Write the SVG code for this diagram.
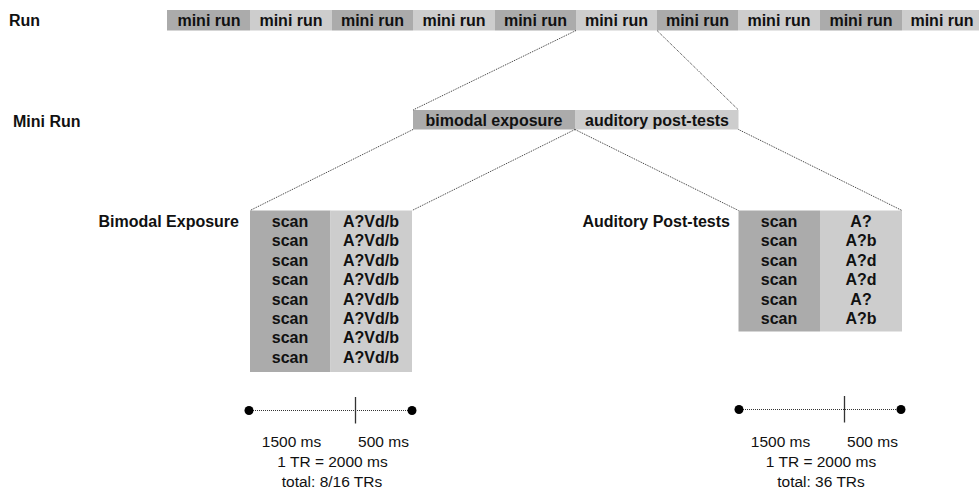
<svg xmlns="http://www.w3.org/2000/svg" width="979" height="491" viewBox="0 0 979 491">
<style>
text{font-family:"Liberation Sans",Arial,sans-serif;fill:#111}
.b{font-weight:bold;font-size:16px}
.r{font-size:15.5px}
.c{text-anchor:middle}
.dk{fill:#ababab}
.lt{fill:#cdcdcd}
.dot{stroke:#333;stroke-width:1;stroke-dasharray:1 1;fill:none}
</style>
<rect width="979" height="491" fill="#fff"/>
<g id="labels">
<text class="b" x="9" y="26">Run</text>
<text class="b" x="13" y="127">Mini Run</text>
<text class="b" x="239" y="227" text-anchor="end">Bimodal Exposure</text>
<text class="b" x="730" y="227" text-anchor="end">Auditory Post-tests</text>
</g>
<g id="run-bar">
<rect class="dk" x="167" y="10" width="83" height="20.5"/>
<rect class="lt" x="250" y="10" width="82" height="20.5"/>
<rect class="dk" x="332" y="10" width="81" height="20.5"/>
<rect class="lt" x="413" y="10" width="82" height="20.5"/>
<rect class="dk" x="495" y="10" width="81" height="20.5"/>
<rect class="lt" x="576" y="10" width="81" height="20.5"/>
<rect class="dk" x="657" y="10" width="81" height="20.5"/>
<rect class="lt" x="738" y="10" width="82" height="20.5"/>
<rect class="dk" x="820" y="10" width="82" height="20.5"/>
<rect class="lt" x="902" y="10" width="81" height="20.5"/>
<text class="b c" x="209" y="26">mini run</text>
<text class="b c" x="291" y="26">mini run</text>
<text class="b c" x="372.5" y="26">mini run</text>
<text class="b c" x="454" y="26">mini run</text>
<text class="b c" x="535.5" y="26">mini run</text>
<text class="b c" x="616.5" y="26">mini run</text>
<text class="b c" x="697.5" y="26">mini run</text>
<text class="b c" x="779" y="26">mini run</text>
<text class="b c" x="861" y="26">mini run</text>
<text class="b c" x="942" y="26">mini run</text>
</g>
<g id="mini-run-bar">
<rect class="dk" x="413" y="110" width="162" height="19.5"/>
<rect class="lt" x="575" y="110" width="163.5" height="19.5"/>
<text class="b c" x="494" y="125.5">bimodal exposure</text>
<text class="b c" x="657" y="125.5">auditory post-tests</text>
</g>
<g id="bimodal-table">
<rect class="dk" x="250" y="210.5" width="80.5" height="161.5"/>
<rect class="lt" x="330.5" y="210.5" width="81.5" height="161.5"/>
<g class="b c">
<text x="290" y="227">scan</text><text x="371" y="227">A?Vd/b</text>
<text x="290" y="246.4">scan</text><text x="371" y="246.4">A?Vd/b</text>
<text x="290" y="265.8">scan</text><text x="371" y="265.8">A?Vd/b</text>
<text x="290" y="285.2">scan</text><text x="371" y="285.2">A?Vd/b</text>
<text x="290" y="304.6">scan</text><text x="371" y="304.6">A?Vd/b</text>
<text x="290" y="324">scan</text><text x="371" y="324">A?Vd/b</text>
<text x="290" y="343.4">scan</text><text x="371" y="343.4">A?Vd/b</text>
<text x="290" y="362.8">scan</text><text x="371" y="362.8">A?Vd/b</text>
</g>
</g>
<g id="auditory-table">
<rect class="dk" x="738.5" y="210.5" width="81.5" height="121"/>
<rect class="lt" x="820" y="210.5" width="82" height="121"/>
<g class="b c">
<text x="779" y="227">scan</text><text x="861" y="227">A?</text>
<text x="779" y="246.4">scan</text><text x="861" y="246.4">A?b</text>
<text x="779" y="265.8">scan</text><text x="861" y="265.8">A?d</text>
<text x="779" y="285.2">scan</text><text x="861" y="285.2">A?d</text>
<text x="779" y="304.6">scan</text><text x="861" y="304.6">A?</text>
<text x="779" y="324">scan</text><text x="861" y="324">A?b</text>
</g>
</g>
<g id="connectors">
<line class="dot" x1="576" y1="30.5" x2="413" y2="110"/>
<line class="dot" x1="657" y1="30.5" x2="738.5" y2="110"/>
<line class="dot" x1="413" y1="129.5" x2="250" y2="210.5"/>
<line class="dot" x1="575" y1="129.5" x2="412" y2="210.5"/>
<line class="dot" x1="575" y1="129.5" x2="738.5" y2="210.5"/>
<line class="dot" x1="738.5" y1="129.5" x2="902" y2="210.5"/>
</g>
<g id="timeline-bimodal">
<line class="dot" x1="249" y1="410.5" x2="412" y2="410.5"/>
<line x1="355.5" y1="397" x2="355.5" y2="423.5" stroke="#333" stroke-width="1.3"/>
<circle cx="249" cy="410.5" r="4.5" fill="#000"/>
<circle cx="412" cy="410.5" r="4.5" fill="#000"/>
<text class="r c" x="291.5" y="447">1500 ms</text>
<text class="r c" x="383.5" y="447">500 ms</text>
<text class="r c" x="332.5" y="467">1 TR = 2000 ms</text>
<text class="r c" x="332" y="487">total: 8/16 TRs</text>
</g>
<g id="timeline-auditory">
<line class="dot" x1="739" y1="409.5" x2="901" y2="409.5"/>
<line x1="844.5" y1="396" x2="844.5" y2="422.5" stroke="#333" stroke-width="1.3"/>
<circle cx="739" cy="409.5" r="4.5" fill="#000"/>
<circle cx="901" cy="409.5" r="4.5" fill="#000"/>
<text class="r c" x="780.5" y="447">1500 ms</text>
<text class="r c" x="872.5" y="447">500 ms</text>
<text class="r c" x="821" y="467">1 TR = 2000 ms</text>
<text class="r c" x="821" y="487">total: 36 TRs</text>
</g>
</svg>
